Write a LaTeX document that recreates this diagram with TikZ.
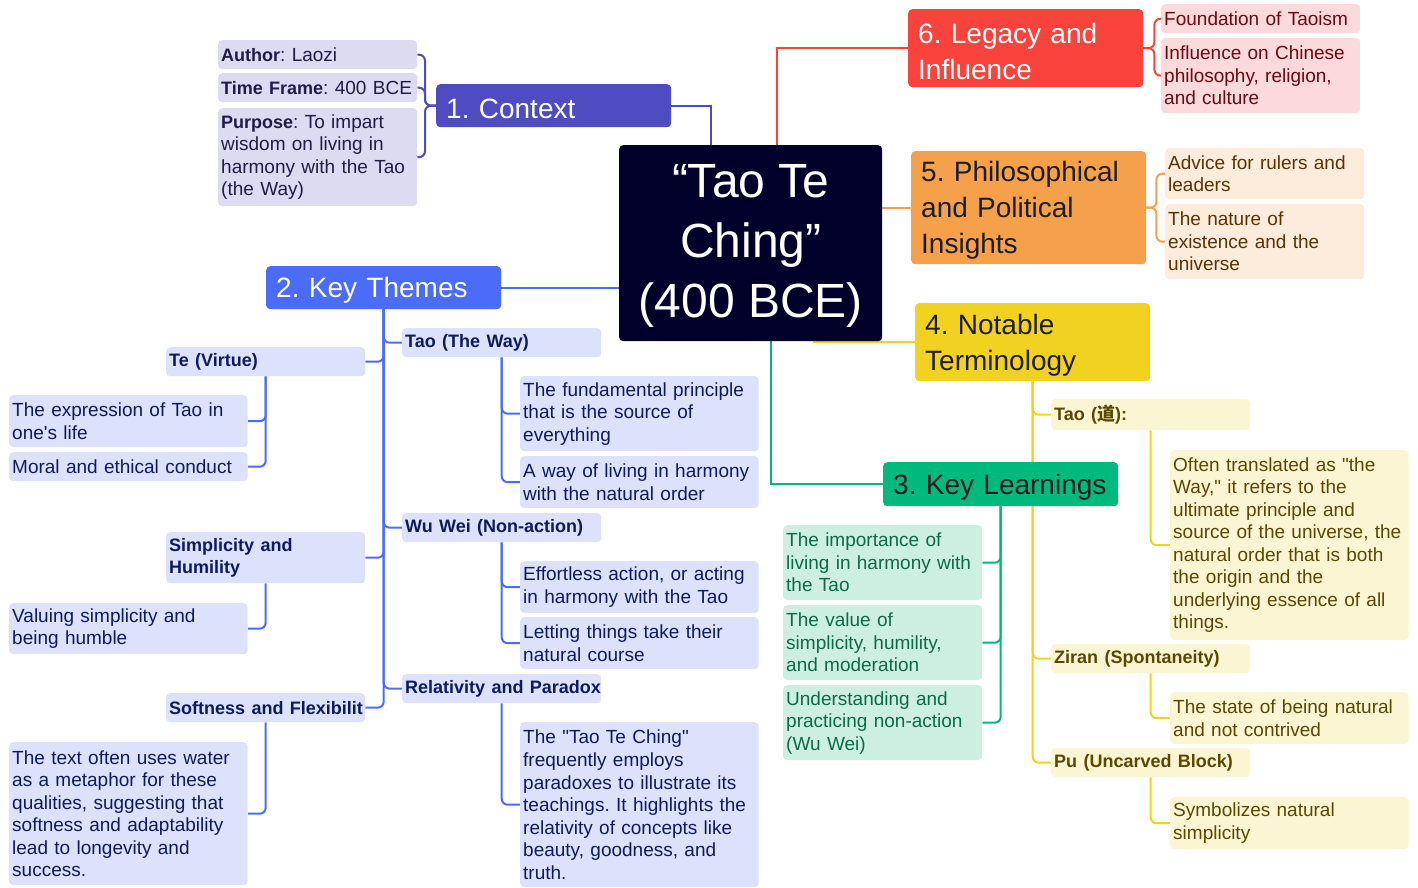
\documentclass[tikz,border=0pt]{standalone}
\usepackage{fontspec}
\setmainfont{Liberation Sans}[Ligatures=TeXOff]
\newfontfamily\cjkfont{Noto Sans CJK SC}
\usetikzlibrary{backgrounds}
\frenchspacing
\hyphenpenalty=10000
\exhyphenpenalty=10000

\definecolor{ctx}{HTML}{4F4BC0}
\definecolor{ctxfill}{HTML}{DDDBF1}
\definecolor{ctxtext}{HTML}{1F1D45}
\definecolor{kt}{HTML}{4A6CF8}
\definecolor{ktfill}{HTML}{DCE1FC}
\definecolor{kttext}{HTML}{0D1B5E}
\definecolor{kl}{HTML}{00B97D}
\definecolor{klfill}{HTML}{CDEFE2}
\definecolor{kltext}{HTML}{0B6B48}
\definecolor{nt}{HTML}{F1D220}
\definecolor{ntfill}{HTML}{FCF5D3}
\definecolor{nttext}{HTML}{5A4800}
\definecolor{ph}{HTML}{F5A04B}
\definecolor{phfill}{HTML}{FDEBDC}
\definecolor{phtext}{HTML}{5A3300}
\definecolor{lg}{HTML}{F9433C}
\definecolor{lgfill}{HTML}{FCD9DA}
\definecolor{lgtext}{HTML}{6A0A12}
\definecolor{core}{HTML}{00002A}
\definecolor{darktext}{HTML}{1E1E1E}

% bold lead-in words, set a little narrower than the body text
\newcommand\leadbf[1]{\mbox{\fontsize{18}{22.5}\selectfont\bfseries #1}}
% invisible strut that lowers the first line of a branch title
\newcommand\catstrut{\rule{0pt}{26pt}}

\tikzset{
  box/.style={anchor=north west, rounded corners=4pt, align=left,
    inner ysep=0pt, inner xsep=3pt, font=\fontsize{19}{22.5}\selectfont},
  small/.style={box, text width=193pt},
  large/.style={box, text width=232.5pt},
  cat/.style={box, inner xsep=10pt, text width=215pt,
    font=\fontsize{28}{36}\selectfont},
  ctxbox/.style={small, fill=ctxfill, text=ctxtext},
  ktbox/.style={fill=ktfill, text=kttext},
  klbox/.style={small, fill=klfill, text=kltext},
  ntbox/.style={fill=ntfill, text=nttext},
  phbox/.style={small, fill=phfill, text=phtext},
  lgbox/.style={small, fill=lgfill, text=lgtext},
  link/.style={line width=2pt, rounded corners=6pt},
  sharp/.style={line width=2pt}
}

\begin{document}
\begin{tikzpicture}[x=1pt, y=-1pt]
\useasboundingbox (0,0) rectangle (1418,888);

% central topic
\node[anchor=north west, fill=core, rounded corners=4pt,
  minimum width=263pt, minimum height=196pt, inner sep=0pt] (central) at (619,145) {};
\node[text=white, align=center, inner sep=0pt, font=\fontsize{48}{60}\selectfont]
  (centraltext) at ([yshift=-3pt]central.center) {“Tao Te\\Ching”\\(400 BCE)};

% 1. Context
\node[cat, fill=ctx, text=white, minimum height=43pt] (context) at (436,84) {\catstrut 1. Context};
\node[ctxbox, minimum height=29pt] (author) at (218,40) {\leadbf{Author}: Laozi};
\node[ctxbox, minimum height=29pt] (timeframe) at (218,73) {\mbox{\leadbf{Time Frame}: 400 BCE}};
\node[ctxbox, minimum height=98pt] (purpose) at (218,108)
  {\leadbf{Purpose}: To impart\\wisdom on living in\\harmony with the Tao\\(the Way)};

% 2. Key Themes
\node[cat, fill=kt, text=white, minimum height=43pt] (keythemes) at (266,266) {\catstrut 2. Key Themes};
\node[small, ktbox, minimum height=29pt] (taoway) at (402,328) {\leadbf{Tao (The Way)}};
\node[large, ktbox, minimum height=75pt] (tw1) at (520,376)
  {The fundamental principle\\that is the source of\\everything};
\node[large, ktbox, minimum height=52pt] (tw2) at (520,456)
  {A way of living in harmony\\with the natural order};
\node[small, ktbox, minimum height=29pt] (te) at (166,347) {\leadbf{Te (Virtue)}};
\node[large, ktbox, minimum height=52pt] (te1) at (9,395)
  {The expression of Tao in\\one's life};
\node[large, ktbox, minimum height=29pt] (te2) at (9,452) {Moral and ethical conduct};
\node[small, ktbox, minimum height=29pt] (wuwei) at (402,513) {\leadbf{Wu Wei (Non-action)}};
\node[large, ktbox, minimum height=52pt] (ww1) at (520,561)
  {Effortless action, or acting\\in harmony with the Tao};
\node[large, ktbox, minimum height=52pt] (ww2) at (520,617)
  {Letting things take their\\natural course};
\node[small, ktbox, minimum height=51pt] (simp) at (166,532) {\leadbf{Simplicity and}\\\leadbf{Humility}};
\node[large, ktbox, minimum height=51pt] (simp1) at (9,603)
  {Valuing simplicity and\\being humble};
\node[small, ktbox, minimum height=29pt] (rel) at (402,674) {\leadbf{Relativity and Paradox}};
\node[large, ktbox, minimum height=165pt] (rel1) at (520,722)
  {The "Tao Te Ching"\\frequently employs\\paradoxes to illustrate its\\teachings. It highlights the\\relativity of concepts like\\beauty, goodness, and\\truth.};
\node[small, ktbox, minimum height=29pt] (soft) at (166,693) {\leadbf{Softness and Flexibilit}};
\node[large, ktbox, minimum height=143pt] (soft1) at (9,742)
  {The text often uses water\\as a metaphor for these\\qualities, suggesting that\\softness and adaptability\\lead to longevity and\\success.};

% 3. Key Learnings
\node[cat, fill=kl, text=darktext, minimum height=44pt] (keylearn) at (883,462) {\catstrut\mbox{3. Key Learnings}};
\node[klbox, minimum height=75pt] (kl1) at (783,525)
  {The importance of\\living in harmony with\\the Tao};
\node[klbox, minimum height=75pt] (kl2) at (783,605)
  {The value of\\simplicity, humility,\\and moderation};
\node[klbox, minimum height=75pt] (kl3) at (783,685)
  {Understanding and\\practicing non-action\\(Wu Wei)};

% 4. Notable Terminology
\node[cat, fill=nt, text=darktext, minimum height=78pt] (notable) at (915,303) {\catstrut 4. Notable\\Terminology};
\node[small, ntbox, minimum height=31pt] (taoterm) at (1051,399) {\leadbf{Tao ({\cjkfont 道}):}};
\node[large, ntbox, minimum height=190pt] (tt1) at (1170,450)
  {Often translated as "the\\Way," it refers to the\\ultimate principle and\\source of the universe, the\\natural order that is both\\the origin and the\\underlying essence of all\\things.};
\node[small, ntbox, minimum height=29pt] (ziran) at (1051,644) {\leadbf{Ziran (Spontaneity)}};
\node[large, ntbox, minimum height=52pt] (zr1) at (1170,692)
  {The state of being natural\\and not contrived};
\node[small, ntbox, minimum height=29pt] (pu) at (1051,748) {\leadbf{Pu (Uncarved Block)}};
\node[large, ntbox, minimum height=52pt] (pu1) at (1170,797)
  {Symbolizes natural\\simplicity};

% 5. Philosophical and Political Insights
\node[cat, fill=ph, text=darktext, minimum height=113pt] (philo) at (911,151)
  {\catstrut 5. Philosophical\\and Political\\Insights};
\node[phbox, minimum height=51pt] (ph1) at (1165,148) {Advice for rulers and\\leaders};
\node[phbox, minimum height=75pt] (ph2) at (1165,204) {The nature of\\existence and the\\universe};

% 6. Legacy and Influence
\node[cat, fill=lg, text=white, minimum height=78pt] (legacy) at (908,9) {\catstrut 6. Legacy and\\Influence};
\node[lgbox, minimum height=29pt] (lg1) at (1161,4) {Foundation of Taoism};
\node[lgbox, minimum height=75pt] (lg2) at (1161,38)
  {Influence on Chinese\\philosophy, religion,\\and culture};

\begin{scope}[on background layer]
  % branches from the central topic
  \draw[sharp, ctx] (context.east) -| ([xshift=-40pt]central.north);
  \draw[sharp, kt] (keythemes.east) -- (keythemes.east -| central.west);
  \draw[sharp, lg] ([xshift=26pt]central.north) |- (legacy.west);
  \draw[sharp, ph] (philo.west -| central.east) -- (philo.west);
  \coordinate (ntfoot) at ([xshift=62pt]central.south);
  \draw[sharp, nt] (notable.west) -- (notable.west -| ntfoot);
  \draw[sharp, kl] ([xshift=20pt]central.south) |- (keylearn.west);

  % Context details
  \foreach \c in {author, timeframe, purpose}
    \draw[link, ctx] (context.west) -- ++(-11,0) |- (\c.east);

  % Key Themes
  \foreach \c in {taoway, wuwei, rel}
    \draw[link, kt] (keythemes.south) |- (\c.west);
  \foreach \c in {te, simp, soft}
    \draw[link, kt] (keythemes.south) |- (\c.east);
  \foreach \c in {tw1, tw2}
    \draw[link, kt] (taoway.south) |- (\c.west);
  \foreach \c in {ww1, ww2}
    \draw[link, kt] (wuwei.south) |- (\c.west);
  \draw[link, kt] (rel.south) |- (rel1.west);
  \foreach \c in {te1, te2}
    \draw[link, kt] (te.south) |- (\c.east);
  \draw[link, kt] (simp.south) |- (simp1.east);
  \draw[link, kt] (soft.south) |- (soft1.east);

  % Key Learnings
  \foreach \c in {kl1, kl2, kl3}
    \draw[link, kl] (keylearn.south) |- (\c.east);

  % Notable Terminology
  \foreach \c in {taoterm, ziran, pu}
    \draw[link, nt] (notable.south) |- (\c.west);
  \draw[link, nt] (taoterm.south) |- (tt1.west);
  \draw[link, nt] (ziran.south) |- (zr1.west);
  \draw[link, nt] (pu.south) |- (pu1.west);

  % Philosophical and Political Insights
  \foreach \c in {ph1, ph2}
    \draw[link, ph] (philo.east) -- ++(10,0) |- (\c.west);

  % Legacy and Influence
  \foreach \c in {lg1, lg2}
    \draw[link, lg] (legacy.east) -- ++(11,0) |- (\c.west);
\end{scope}
\end{tikzpicture}
\end{document}
